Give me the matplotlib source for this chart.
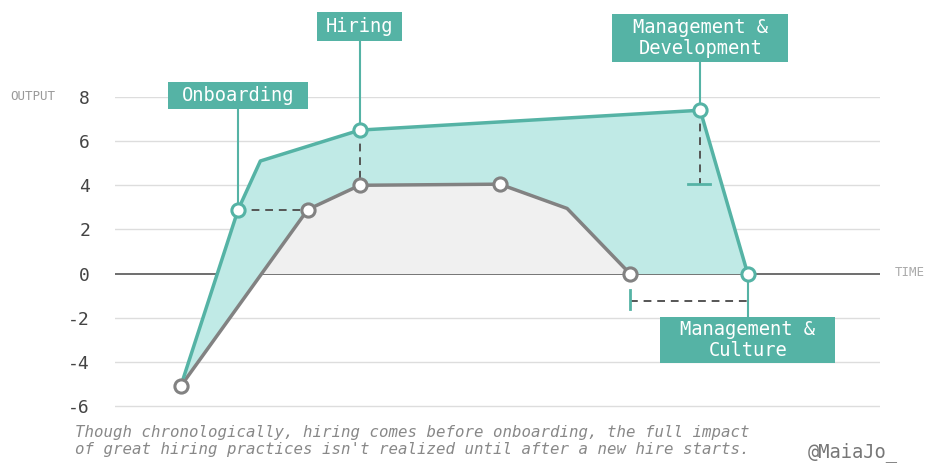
import numpy as np
import matplotlib
matplotlib.use("Agg")
import matplotlib.pyplot as plt
from matplotlib.patches import Rectangle

plt.rcParams['font.family'] = ['DejaVu Sans Mono']
plt.rcParams['axes.unicode_minus'] = False

# Datos (tiempo en unidades arbitrarias 0-100)
teal_t = [8.6, 16.1, 19.0, 32.0, 76.5, 82.7]
teal_v = [-5.1, 2.9, 5.1, 6.5, 7.4, 0.0]
gray_t = [8.6, 25.2, 32.0, 50.3, 59.1, 67.3]
gray_v = [-5.1, 2.9, 4.0, 4.05, 2.95, 0.0]
teal_marcas = [1, 3, 4, 5]
gray_marcas = [0, 1, 2, 3, 5]
yticks = [-6, -4, -2, 0, 2, 4, 6, 8]

etiquetas = ["Onboarding", "Hiring", "Management &\nDevelopment", "Management &\nCulture"]
etiq_idx = [1, 3, 4, 5]
etiq_y = [8.05, 11.18, 10.68, -3.0]
caja_px = [(140, 27), (85, 29), (176, 48), (175, 46)]  # ancho, alto en pixeles

caption = ("Though chronologically, hiring comes before onboarding, the full impact\n"
           "of great hiring practices isn't realized until after a new hire starts.")

TEAL = '#55b3a5'
FILL = '#c0eae6'
GRIS = '#828282'

PX_X = 765 / 100   # pixeles por unidad x
PX_Y = 22.0        # pixeles por unidad y

fig = plt.figure(figsize=(9.46, 4.69), dpi=100)
ybot = -6.3
ax = fig.add_axes([115 / 946, 1 - (406 + 0.3 * PX_Y) / 469, 765 / 946, (309 + 0.3 * PX_Y) / 469])
ax.set_xlim(0, 100)
ax.set_ylim(ybot, 8)

for s in ax.spines.values():
    s.set_visible(False)
ax.set_xticks([])
ax.set_yticks(yticks)
ax.set_yticklabels([str(v) for v in yticks], fontsize=13, color='#444444')
ax.tick_params(axis='y', length=0, pad=18)
for v in yticks:
    if v != 0:
        ax.axhline(v, color='#dddddd', lw=1, zorder=0)
ax.axhline(0, color='#555555', lw=1.2, zorder=1)

# rellenos
xs = np.linspace(teal_t[0], teal_t[-1], 800)
ty = np.interp(xs, teal_t, teal_v)
gy = np.interp(xs, gray_t, gray_v, right=0.0)
ax.fill_between(xs, ty, gy, color=FILL, lw=0, zorder=2)
gx = np.linspace(gray_t[0], gray_t[-1], 800)
gyy = np.interp(gx, gray_t, gray_v)
ax.fill_between(gx, gyy, 0, where=gyy >= 0, interpolate=True, color='#f0f0f0', lw=0, zorder=2)

ax.plot(gray_t, gray_v, color=GRIS, lw=2.5, zorder=3)
ax.plot(teal_t, teal_v, color=TEAL, lw=2.5, zorder=4)

# lineas guia
dash = dict(color='#555555', lw=1.4, ls=(0, (4, 3)), zorder=3)
ax.plot([teal_t[1], gray_t[1]], [teal_v[1], gray_v[1]], **dash)
ax.plot([teal_t[3], gray_t[2]], [teal_v[3], gray_v[2]], **dash)
ax.plot([teal_t[4], teal_t[4]], [teal_v[4], 4.05], **dash)
ax.plot([74.9, 77.8], [4.05, 4.05], color=TEAL, lw=2, zorder=3)
ax.plot([gray_t[5], teal_t[5]], [-1.23, -1.23], **dash)
ax.plot([gray_t[5], gray_t[5]], [-0.73, -1.6], color=TEAL, lw=2, zorder=3)

# etiquetas con conectores
for txt, i, y, (w, h) in zip(etiquetas, etiq_idx, etiq_y, caja_px):
    x = teal_t[i]
    ax.plot([x, x], [teal_v[i], y], color=TEAL, lw=1.5, zorder=3, clip_on=False)
    wd, hd = w / PX_X, h / PX_Y
    ax.add_patch(Rectangle((x - wd / 2, y - hd / 2), wd, hd, fc=TEAL, ec='none',
                           zorder=8, clip_on=False))
    ax.text(x, y, txt, ha='center', va='center', fontsize=13.5, color='white',
            linespacing=1.1, zorder=9, clip_on=False)

# marcadores
ax.plot([gray_t[i] for i in gray_marcas], [gray_v[i] for i in gray_marcas], 'o',
        ms=9.5, mfc='white', mec=GRIS, mew=2.2, zorder=6, clip_on=False)
ax.plot([teal_t[i] for i in teal_marcas], [teal_v[i] for i in teal_marcas], 'o',
        ms=9.5, mfc='white', mec=TEAL, mew=2.2, zorder=7, clip_on=False)

fig.text(10 / 946, 1 - 96 / 469, "OUTPUT", fontsize=9, color='#999999', va='center')
fig.text(895 / 946, 1 - 273 / 469, "TIME", fontsize=9, color='#aaaaaa', va='center')
fig.text(75 / 946, 1 - 441 / 469, caption, fontsize=11.3, color='#888888', style='italic',
         va='center', linespacing=1.15)
fig.text(808 / 946, 1 - 452 / 469, "@MaiaJo_", fontsize=13.5, color='#777777', va='center')

fig.savefig('out.png', dpi=100)
